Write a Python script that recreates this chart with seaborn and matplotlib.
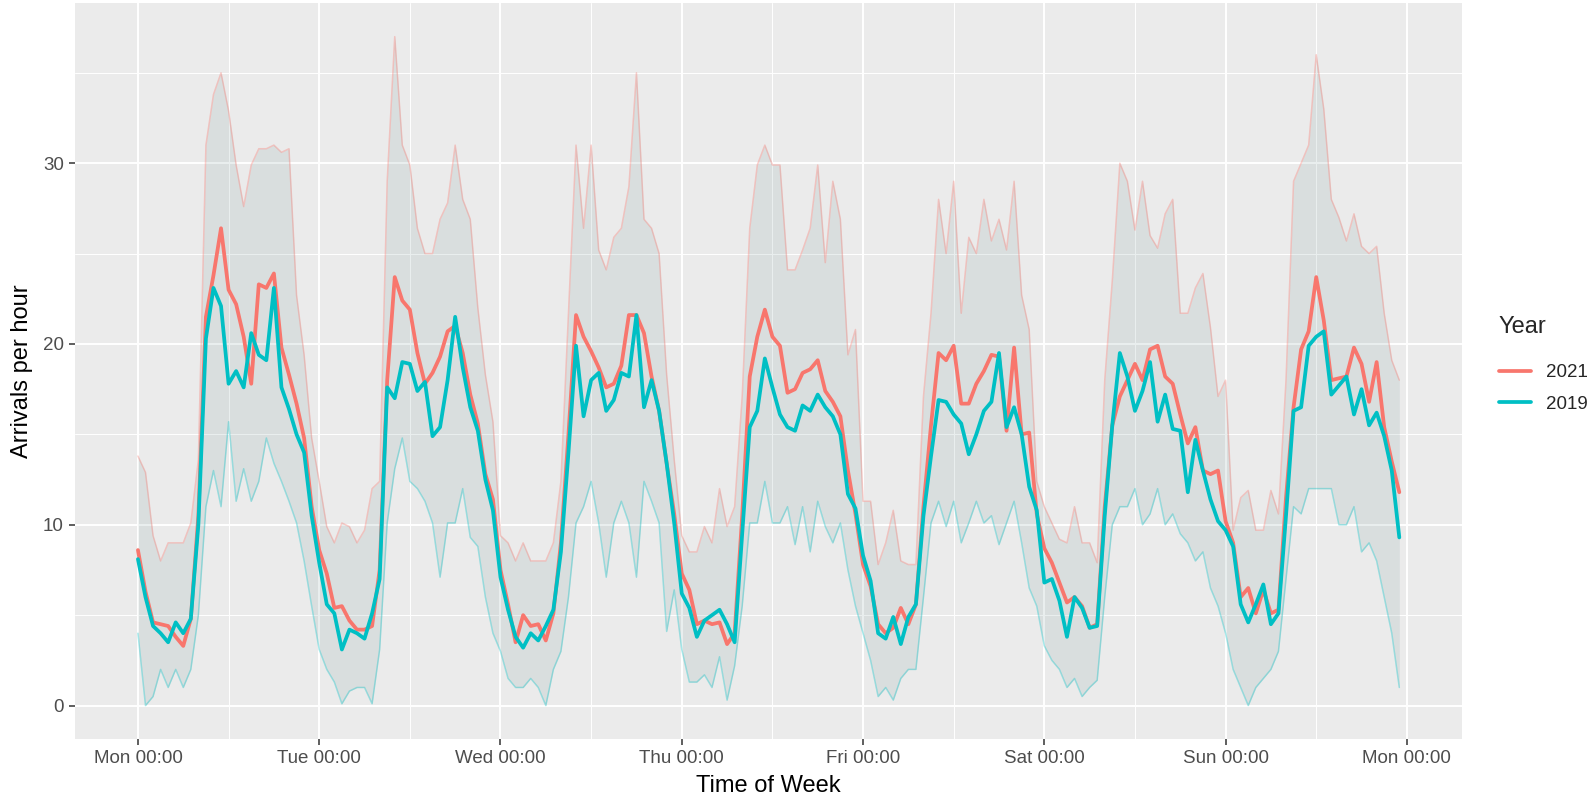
import numpy as np
import pandas as pd
import seaborn as sns
import matplotlib.pyplot as plt

# hour of week 0..167, Mon 00:00 = 0
hours = list(range(168))
day_labels = ['Mon 00:00', 'Tue 00:00', 'Wed 00:00', 'Thu 00:00',
              'Fri 00:00', 'Sat 00:00', 'Sun 00:00', 'Mon 00:00']
years = ['2021', '2019']
colors = ['#F8766D', '#00BFC4']

# mean arrivals per hour, 2021
mean_2021 = [
    8.6, 6.3, 4.6, 4.5, 4.4, 3.8, 3.3, 4.8, 10.5, 21.5, 23.8, 26.4, 23.0, 22.2, 20.4, 17.8, 23.3, 23.1, 23.9, 19.8, 18.3, 16.7, 14.8, 11.0,
    8.6, 7.3, 5.4, 5.5, 4.7, 4.2, 4.2, 4.4, 7.5, 18.0, 23.7, 22.4, 21.9, 19.5, 17.8, 18.4, 19.3, 20.7, 21.0, 19.5, 17.2, 15.6, 12.8, 11.4,
    7.5, 5.6, 3.5, 5.0, 4.4, 4.5, 3.6, 5.1, 9.0, 15.0, 21.6, 20.4, 19.6, 18.7, 17.6, 17.8, 18.8, 21.6, 21.6, 20.6, 18.2, 16.3, 13.4, 10.6,
    7.3, 6.4, 4.5, 4.7, 4.5, 4.6, 3.4, 4.0, 10.5, 18.2, 20.4, 21.9, 20.4, 19.9, 17.3, 17.5, 18.4, 18.6, 19.1, 17.4, 16.8, 16.0, 13.0, 10.6,
    7.8, 6.6, 4.5, 4.0, 4.3, 5.4, 4.5, 5.6, 11.0, 15.5, 19.5, 19.1, 19.9, 16.7, 16.7, 17.8, 18.5, 19.4, 19.3, 15.2, 19.8, 15.0, 15.1, 10.6,
    8.7, 7.9, 6.8, 5.7, 6.0, 5.5, 4.3, 4.5, 11.0, 15.5, 17.1, 18.0, 18.9, 18.0, 19.7, 19.9, 18.2, 17.8, 16.1, 14.5, 15.4, 13.0, 12.8, 13.0,
    10.2, 9.0, 6.0, 6.5, 5.1, 6.4, 5.1, 5.3, 11.5, 16.5, 19.7, 20.7, 23.7, 21.3, 18.0, 18.1, 18.2, 19.8, 18.9, 16.8, 19.0, 15.4, 13.5, 11.8,
]

# mean arrivals per hour, 2019
mean_2019 = [
    8.1, 6.0, 4.4, 4.0, 3.5, 4.6, 4.0, 4.8, 10.0, 20.3, 23.1, 22.1, 17.8, 18.5, 17.6, 20.6, 19.4, 19.1, 23.1, 17.6, 16.4, 15.0, 14.0, 10.5,
    7.9, 5.6, 5.1, 3.1, 4.2, 4.0, 3.7, 5.1, 7.0, 17.6, 17.0, 19.0, 18.9, 17.4, 17.9, 14.9, 15.4, 18.0, 21.5, 18.7, 16.5, 15.2, 12.5, 10.8,
    7.1, 5.3, 3.8, 3.2, 4.0, 3.6, 4.4, 5.3, 8.5, 14.0, 19.9, 16.0, 18.0, 18.4, 16.3, 16.9, 18.4, 18.2, 21.6, 16.5, 18.0, 16.3, 13.4, 10.1,
    6.2, 5.4, 3.8, 4.7, 5.0, 5.3, 4.5, 3.5, 9.5, 15.4, 16.3, 19.2, 17.6, 16.1, 15.4, 15.2, 16.6, 16.3, 17.2, 16.5, 16.0, 15.0, 11.7, 10.9,
    8.3, 6.9, 4.0, 3.7, 4.9, 3.4, 4.9, 5.6, 10.5, 13.8, 16.9, 16.8, 16.1, 15.6, 13.9, 15.0, 16.3, 16.8, 19.5, 15.4, 16.5, 15.0, 12.1, 10.8,
    6.8, 7.0, 5.8, 3.8, 6.0, 5.4, 4.3, 4.4, 10.5, 15.5, 19.5, 18.2, 16.3, 17.4, 19.0, 15.7, 17.2, 15.3, 15.2, 11.8, 14.7, 13.0, 11.4, 10.2,
    9.7, 8.8, 5.6, 4.6, 5.6, 6.7, 4.5, 5.1, 10.5, 16.3, 16.5, 19.9, 20.4, 20.7, 17.2, 17.7, 18.2, 16.1, 17.5, 15.5, 16.2, 14.9, 13.0, 9.3,
]

# spread of the individual weeks (upper / lower envelope)
week_high = [
    13.8, 12.9, 9.4, 8.0, 9.0, 9.0, 9.0, 10.1, 13.6, 31.0, 33.8, 35.0, 32.9, 29.9, 27.6, 29.9, 30.8, 30.8, 31.0, 30.6, 30.8, 22.7, 19.4, 14.8,
    12.4, 9.9, 9.0, 10.1, 9.9, 9.0, 9.7, 12.0, 12.4, 29.0, 37.0, 31.0, 29.9, 26.4, 25.0, 25.0, 26.9, 27.8, 31.0, 28.0, 26.9, 22.0, 18.3, 15.7,
    9.4, 9.0, 8.0, 9.0, 8.0, 8.0, 8.0, 9.0, 12.4, 21.7, 31.0, 26.4, 31.0, 25.2, 24.1, 25.9, 26.4, 28.7, 35.0, 26.9, 26.4, 25.0, 18.3, 13.6,
    9.4, 8.5, 8.5, 9.9, 9.0, 12.0, 9.9, 11.0, 17.1, 26.4, 29.9, 31.0, 29.9, 29.9, 24.1, 24.1, 25.2, 26.4, 29.9, 24.5, 29.0, 26.9, 19.4, 20.8,
    11.3, 11.3, 7.8, 9.0, 10.8, 8.0, 7.8, 7.8, 17.1, 21.7, 28.0, 25.0, 29.0, 21.7, 25.9, 25.0, 28.0, 25.7, 26.9, 25.2, 29.0, 22.7, 20.8, 12.4,
    11.0, 10.1, 9.2, 9.0, 11.0, 9.0, 9.0, 7.9, 18.0, 23.5, 30.0, 29.0, 26.3, 29.0, 26.0, 25.3, 27.2, 28.0, 21.7, 21.7, 23.1, 23.9, 20.9, 17.1,
    18.0, 9.7, 11.5, 11.9, 9.7, 9.7, 11.9, 10.6, 18.0, 29.0, 30.0, 31.0, 36.0, 33.0, 28.0, 27.0, 25.7, 27.2, 25.4, 25.0, 25.4, 21.7, 19.1, 18.0,
]
week_low = [
    4.0, 0.0, 0.5, 2.0, 1.0, 2.0, 1.0, 2.0, 5.0, 11.0, 13.0, 11.0, 15.7, 11.3, 13.1, 11.3, 12.4, 14.8, 13.4, 12.4, 11.3, 10.1, 8.0, 5.5,
    3.1, 2.0, 1.3, 0.1, 0.8, 1.0, 1.0, 0.1, 3.1, 10.1, 13.1, 14.8, 12.4, 12.0, 11.3, 10.1, 7.1, 10.1, 10.1, 12.0, 9.3, 8.8, 6.0, 4.0,
    3.0, 1.5, 1.0, 1.0, 1.5, 1.0, 0.0, 2.0, 3.0, 6.0, 10.1, 11.0, 12.4, 10.1, 7.1, 10.1, 11.3, 10.1, 7.1, 12.4, 11.3, 10.1, 4.1, 6.4,
    3.1, 1.3, 1.3, 1.7, 1.0, 2.7, 0.3, 2.2, 5.5, 10.1, 10.1, 12.4, 10.1, 10.1, 11.0, 8.9, 11.0, 8.5, 11.3, 9.9, 9.0, 10.1, 7.5, 5.5,
    4.0, 2.5, 0.5, 1.0, 0.3, 1.5, 2.0, 2.0, 6.0, 10.1, 11.3, 9.9, 11.3, 9.0, 10.1, 11.3, 10.1, 10.5, 8.9, 10.1, 11.3, 9.0, 6.5, 5.5,
    3.3, 2.5, 2.0, 1.0, 1.5, 0.5, 1.0, 1.4, 6.0, 10.0, 11.0, 11.0, 12.0, 10.0, 10.6, 12.0, 10.0, 10.6, 9.5, 9.0, 8.0, 8.5, 6.5, 5.5,
    4.0, 2.0, 1.0, 0.0, 1.0, 1.5, 2.0, 3.0, 7.0, 11.0, 10.6, 12.0, 12.0, 12.0, 12.0, 10.0, 10.0, 11.0, 8.5, 9.0, 8.0, 6.0, 4.0, 1.0,
]

df = pd.DataFrame({
    'Time of Week': hours * 2,
    'Arrivals per hour': mean_2021 + mean_2019,
    'Year': ['2021'] * 168 + ['2019'] * 168,
})

sns.set_theme(style="darkgrid", rc={
    'axes.facecolor': '#EBEBEB',
    'grid.color': 'white',
    'axes.edgecolor': '#EBEBEB',
})
plt.rcParams['font.family'] = ['Liberation Sans', 'DejaVu Sans']

fig, ax = plt.subplots(figsize=(15.93, 7.96), dpi=100)
fig.subplots_adjust(left=0.047, right=0.918, bottom=0.0716, top=0.996)

# cloud of individual weeks
ax.fill_between(hours, week_low, week_high, color=colors[0], alpha=0.08, lw=0)
ax.fill_between(hours, week_low, week_high, color=colors[1], alpha=0.08, lw=0)
ax.plot(hours, week_high, color=colors[0], alpha=0.35, lw=1.1)
ax.plot(hours, week_low, color=colors[1], alpha=0.35, lw=1.1)

sns.lineplot(data=df, x='Time of Week', y='Arrivals per hour', hue='Year',
             hue_order=years, palette=colors, lw=2.7, ax=ax)

ax.set_xlim(-8.35, 175.35)
ax.set_ylim(-1.85, 38.85)
ax.set_xticks(range(0, 169, 24))
ax.set_xticklabels(day_labels)
ax.set_xticks(range(12, 168, 24), minor=True)
ax.set_yticks([0, 10, 20, 30])
ax.set_yticks([5, 15, 25, 35], minor=True)
ax.grid(which='major', color='white', lw=1.4)
ax.grid(which='minor', color='white', lw=0.7)
ax.tick_params(which='major', length=4, width=1.1, color='#333333',
               labelcolor='#4D4D4D', labelsize=13.5, bottom=True, left=True, pad=4)
ax.tick_params(which='minor', length=0)
ax.set_xlabel('Time of Week', fontsize=17, color='black', labelpad=6)
ax.set_ylabel('Arrivals per hour', fontsize=17, color='black', labelpad=7)
for s in ax.spines.values():
    s.set_visible(False)

sns.move_legend(ax, 'upper left', bbox_to_anchor=(1.014, 0.598), frameon=False,
                title='Year', title_fontsize=17, fontsize=13.5,
                handlelength=1.7, handletextpad=0.8, labelspacing=0.75)
leg = ax.get_legend()
leg._legend_box.align = 'left'
leg._legend_box.sep = 19
for line in leg.get_lines():
    line.set_linewidth(2.7)

plt.savefig('out.png', dpi=100)
plt.close('all')
